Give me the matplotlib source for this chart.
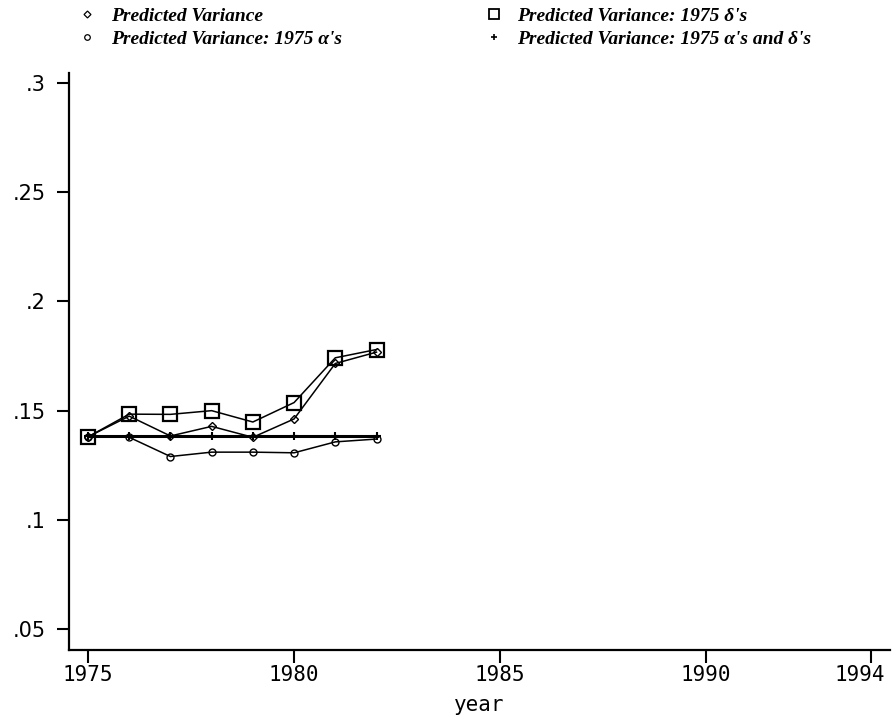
import numpy as np
import matplotlib
matplotlib.use("Agg")
import matplotlib.pyplot as plt
import matplotlib.transforms as mtransforms
from matplotlib.lines import Line2D

# values
years = [1975, 1976, 1977, 1978, 1979, 1980, 1981, 1982]
pred_var = [0.1380, 0.1475, 0.1384, 0.1428, 0.1378, 0.1462, 0.1716, 0.1768]
pred_alpha = [0.1380, 0.1378, 0.1290, 0.1310, 0.1310, 0.1307, 0.1357, 0.1370]
pred_delta = [0.1380, 0.1484, 0.1483, 0.1500, 0.1448, 0.1537, 0.1742, 0.1780]
pred_both = [0.1385, 0.1385, 0.1385, 0.1385, 0.1385, 0.1385, 0.1385, 0.1385]

labels = ["Predicted Variance",
          "Predicted Variance: 1975 \u03b1's",
          "Predicted Variance: 1975 \u03b4's",
          "Predicted Variance: 1975 \u03b1's and \u03b4's"]

xticks = [1975, 1980, 1985, 1990, 1994]
yticks = [0.05, 0.1, 0.15, 0.2, 0.25, 0.3]
ytick_labels = [".05", ".1", ".15", ".2", ".25", ".3"]

fig = plt.figure(figsize=(8.92, 7.18), dpi=100)
ax = fig.add_axes([0.0774, 0.0947, 0.9204, 0.8036])

ax.plot(years, pred_both, color="black", lw=2.2, marker="+", ms=6, mew=1.5)
ax.plot(years, pred_var, color="black", lw=1.1, marker="D", ms=4.5,
        mfc="none", mew=1.0)
ax.plot(years, pred_alpha, color="black", lw=1.1, marker="o", ms=5,
        mfc="none", mew=1.0)
ax.plot(years, pred_delta, color="black", lw=1.1, marker="s", ms=10,
        mfc="none", mew=1.6)

ax.set_xlim(1974.54, 1994.46)
ax.set_ylim(0.0404, 0.3046)
ax.set_xticks(xticks)
ax.set_xticklabels([str(t) for t in xticks], family="DejaVu Sans Mono",
                   fontsize=15)
ax.set_yticks(yticks)
ax.set_yticklabels(ytick_labels, family="DejaVu Sans", fontsize=15)
ax.tick_params(axis="both", direction="out", length=9, width=1.5,
               color="black")
ax.tick_params(axis="x", pad=2)
ax.tick_params(axis="y", pad=8)

# last year label is pulled in so it stays inside the figure
last = ax.get_xticklabels()[-1]
last.set_transform(last.get_transform() +
                   mtransforms.ScaledTranslation(-0.11, 0, fig.dpi_scale_trans))

for side in ["top", "right"]:
    ax.spines[side].set_visible(False)
for side in ["left", "bottom"]:
    ax.spines[side].set_linewidth(1.6)

ax.set_xlabel("year", family="DejaVu Sans Mono", fontsize=15, labelpad=7)

handles = [
    Line2D([], [], color="black", ls="none", marker="D", ms=3.5, mfc="none", mew=0.9),
    Line2D([], [], color="black", ls="none", marker="o", ms=4, mfc="none", mew=0.9),
    Line2D([], [], color="black", ls="none", marker="s", ms=7, mfc="none", mew=1.3),
    Line2D([], [], color="black", ls="none", marker="+", ms=5, mew=1.2),
]
fig.legend(handles, labels, ncol=2, loc="upper left",
           bbox_to_anchor=(0.0783, 1.001), frameon=False,
           prop={"family": "Liberation Serif", "style": "italic",
                 "weight": "bold", "size": 14},
           handlelength=1.0, handletextpad=0.7, columnspacing=7.33,
           labelspacing=0.28, borderaxespad=0)

fig.savefig("out.png", dpi=100)
